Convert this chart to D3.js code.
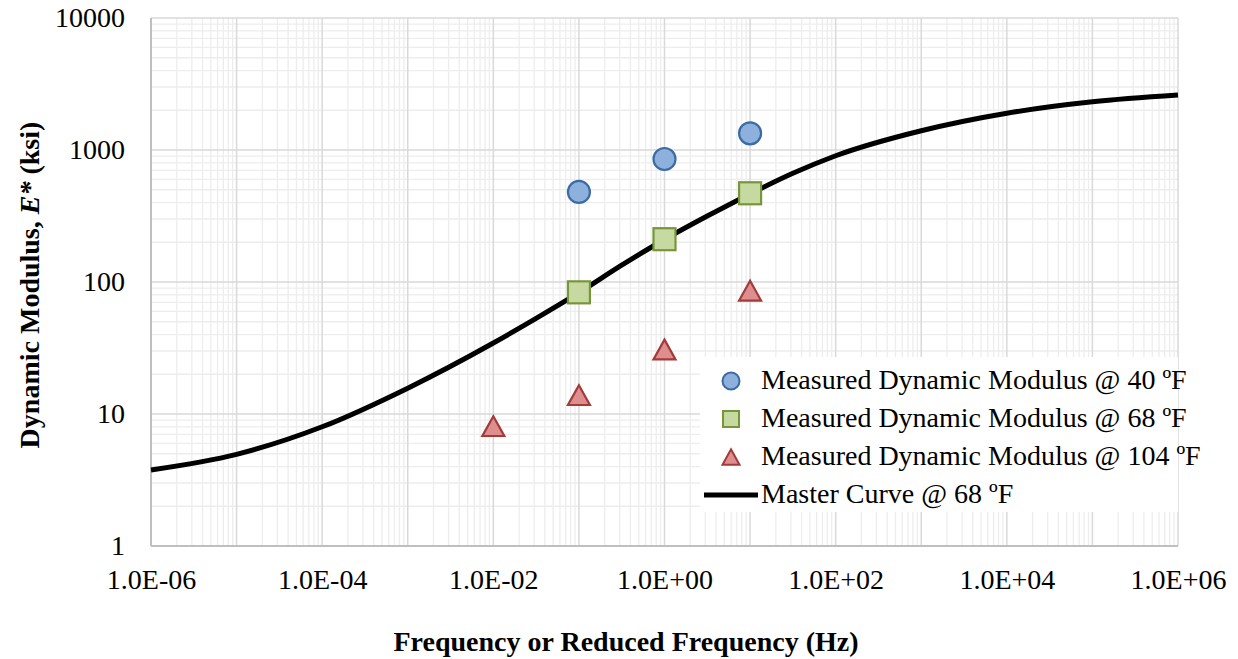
<!DOCTYPE html>
<html>
<head>
<meta charset="utf-8">
<script src="https://cdn.jsdelivr.net/npm/d3@7"></script>
<style>
  body { margin: 0; background: #fff; }
  svg { display: block; font-family: "Liberation Serif", "Times New Roman", serif; }
</style>
</head>
<body>
<svg id="chart"></svg>
<script>
  // measured points (Hz, ksi)
  var freq40 = [0.1, 1, 10];
  var e40 = [481, 855, 1337];
  var freq68 = [0.1, 1, 10];
  var e68 = [83.5, 211, 470];
  var freq104 = [0.01, 0.1, 1, 10];
  var e104 = [8.1, 13.9, 30.8, 86];

  // master curve
  var masterFreq = [1e-6, 1e-5, 1e-4, 1e-3, 1e-2, 0.0316, 0.1, 0.316, 1, 3.16, 10, 31.6, 100, 1e3, 1e4, 1e5, 1e6];
  var masterE = [3.77, 4.95, 8.0, 15.7, 34.5, 53, 83, 134, 210, 316, 465, 666, 905, 1400, 1900, 2320, 2610];

  var xTicks = [1e-6, 1e-4, 1e-2, 1e0, 1e2, 1e4, 1e6];
  var xTickLabels = ["1.0E-06", "1.0E-04", "1.0E-02", "1.0E+00", "1.0E+02", "1.0E+04", "1.0E+06"];
  var yTicks = [1, 10, 100, 1000, 10000];
  var yTickLabels = ["1", "10", "100", "1000", "10000"];

  var legendLabels = [
    "Measured Dynamic Modulus @ 40 \u00baF",
    "Measured Dynamic Modulus @ 68 \u00baF",
    "Measured Dynamic Modulus @ 104 \u00baF",
    "Master Curve @ 68 \u00baF"
  ];

  var svgWidth = 1238, svgHeight = 659;
  var margin = { top: 18, right: 60, bottom: 113, left: 151 };
  var width = svgWidth - margin.left - margin.right;
  var height = svgHeight - margin.top - margin.bottom;

  var blue = { fill: "#8db0dc", stroke: "#3b6ba5" };
  var green = { fill: "#c5d9a0", stroke: "#77963a" };
  var red = { fill: "#de8e8e", stroke: "#a33b3b" };

  var svg = d3.select("#chart")
    .attr("width", svgWidth)
    .attr("height", svgHeight);

  var g = svg.append("g")
    .attr("transform", "translate(" + margin.left + "," + margin.top + ")");

  var x = d3.scaleLog().domain([1e-6, 1e6]).range([0, width]);
  var y = d3.scaleLog().domain([1, 10000]).range([height, 0]);

  // minor + major grid
  var xMinor = [], yMinor = [];
  for (var p = -6; p < 6; p++) {
    for (var m = 2; m <= 9; m++) xMinor.push(m * Math.pow(10, p));
  }
  for (var q = 0; q < 4; q++) {
    for (var n = 2; n <= 9; n++) yMinor.push(n * Math.pow(10, q));
  }

  var grid = g.append("g");
  grid.selectAll(".xminor").data(xMinor).enter().append("line")
    .attr("x1", function(d) { return x(d); })
    .attr("x2", function(d) { return x(d); })
    .attr("y1", 0).attr("y2", height)
    .attr("stroke", "#ededed").attr("stroke-width", 1.3);
  grid.selectAll(".yminor").data(yMinor).enter().append("line")
    .attr("y1", function(d) { return y(d); })
    .attr("y2", function(d) { return y(d); })
    .attr("x1", 0).attr("x2", width)
    .attr("stroke", "#ededed").attr("stroke-width", 1.3);
  grid.selectAll(".xmajor").data(d3.range(-6, 7).map(function(k) { return Math.pow(10, k); })).enter().append("line")
    .attr("x1", function(d) { return x(d); })
    .attr("x2", function(d) { return x(d); })
    .attr("y1", 0).attr("y2", height)
    .attr("stroke", "#d9d9d9").attr("stroke-width", 1.5);
  grid.selectAll(".ymajor").data(yTicks).enter().append("line")
    .attr("y1", function(d) { return y(d); })
    .attr("y2", function(d) { return y(d); })
    .attr("x1", 0).attr("x2", width)
    .attr("stroke", "#d9d9d9").attr("stroke-width", 1.5);

  // axes lines
  g.append("line").attr("x1", 0).attr("x2", 0).attr("y1", 0).attr("y2", height)
    .attr("stroke", "#bfbfbf").attr("stroke-width", 2);
  g.append("line").attr("x1", 0).attr("x2", width).attr("y1", height).attr("y2", height)
    .attr("stroke", "#bfbfbf").attr("stroke-width", 2);

  // tick labels
  var xAxis = d3.axisBottom(x).tickValues(xTicks)
    .tickFormat(function(d, i) { return xTickLabels[i]; })
    .tickSize(0).tickPadding(23);
  var xg = g.append("g").attr("transform", "translate(0," + height + ")").call(xAxis);
  xg.attr("font-family", null);
  xg.select(".domain").remove();
  xg.selectAll("text").attr("font-size", 28).attr("fill", "#000");

  var yAxis = d3.axisLeft(y).tickValues(yTicks)
    .tickFormat(function(d, i) { return yTickLabels[i]; })
    .tickSize(0).tickPadding(26);
  var yg = g.append("g").call(yAxis);
  yg.attr("font-family", null);
  yg.select(".domain").remove();
  yg.selectAll("text").attr("font-size", 28).attr("fill", "#000");

  // master curve
  var master = masterFreq.map(function(f, i) { return { f: f, e: masterE[i] }; });
  var line = d3.line()
    .x(function(d) { return x(d.f); })
    .y(function(d) { return y(d.e); })
    .curve(d3.curveMonotoneX);
  g.append("path")
    .datum(master)
    .attr("fill", "none")
    .attr("stroke", "#000")
    .attr("stroke-width", 5)
    .attr("stroke-linejoin", "round")
    .attr("d", line);

  function zip(a, b) { return a.map(function(v, i) { return { f: v, e: b[i] }; }); }
  function triPath(s) {
    var h = s * 0.9;
    return "M0," + (-h / 2) + "L" + (s / 2) + "," + (h / 2) + "L" + (-s / 2) + "," + (h / 2) + "Z";
  }

  // measured points
  g.selectAll(".p40").data(zip(freq40, e40)).enter().append("circle")
    .attr("cx", function(d) { return x(d.f); })
    .attr("cy", function(d) { return y(d.e); })
    .attr("r", 11)
    .attr("fill", blue.fill).attr("stroke", blue.stroke).attr("stroke-width", 2.2);

  g.selectAll(".p68").data(zip(freq68, e68)).enter().append("rect")
    .attr("x", function(d) { return x(d.f) - 11; })
    .attr("y", function(d) { return y(d.e) - 11; })
    .attr("width", 22).attr("height", 22)
    .attr("fill", green.fill).attr("stroke", green.stroke).attr("stroke-width", 2.2);

  g.selectAll(".p104").data(zip(freq104, e104)).enter().append("path")
    .attr("transform", function(d) { return "translate(" + x(d.f) + "," + y(d.e) + ")"; })
    .attr("d", triPath(22))
    .attr("fill", red.fill).attr("stroke", red.stroke).attr("stroke-width", 2.2)
    .attr("stroke-linejoin", "miter");

  // legend
  var legend = svg.append("g");
  legend.append("rect")
    .attr("x", 700).attr("y", 357).attr("width", 478).attr("height", 155)
    .attr("fill", "#fff");
  var rowY = [381, 419, 457, 495];
  var lx = 731;
  legend.append("circle").attr("cx", lx).attr("cy", rowY[0]).attr("r", 8.5)
    .attr("fill", blue.fill).attr("stroke", blue.stroke).attr("stroke-width", 2);
  legend.append("rect").attr("x", lx - 8).attr("y", rowY[1] - 8).attr("width", 16).attr("height", 16)
    .attr("fill", green.fill).attr("stroke", green.stroke).attr("stroke-width", 2);
  legend.append("path").attr("transform", "translate(" + lx + "," + rowY[2] + ")").attr("d", triPath(17))
    .attr("fill", red.fill).attr("stroke", red.stroke).attr("stroke-width", 2);
  legend.append("line").attr("x1", 704).attr("x2", 758).attr("y1", rowY[3]).attr("y2", rowY[3])
    .attr("stroke", "#000").attr("stroke-width", 5);
  legend.selectAll(".lt").data(legendLabels).enter().append("text")
    .attr("x", 761)
    .attr("y", function(d, i) { return rowY[i]; })
    .attr("dy", "0.3em")
    .attr("font-size", 28)
    .attr("fill", "#000")
    .text(function(d) { return d; });

  // axis titles
  svg.append("text")
    .attr("x", 626)
    .attr("y", 651)
    .attr("text-anchor", "middle")
    .attr("font-size", 28)
    .attr("font-weight", "bold")
    .text("Frequency or Reduced Frequency (Hz)");

  var yt = svg.append("text")
    .attr("transform", "translate(39," + 285 + ") rotate(-90)")
    .attr("text-anchor", "middle")
    .attr("font-size", 28)
    .attr("font-weight", "bold");
  yt.append("tspan").text("Dynamic Modulus, ");
  yt.append("tspan").attr("font-style", "italic").text("E*");
  yt.append("tspan").text(" (ksi)");
</script>
</body>
</html>
